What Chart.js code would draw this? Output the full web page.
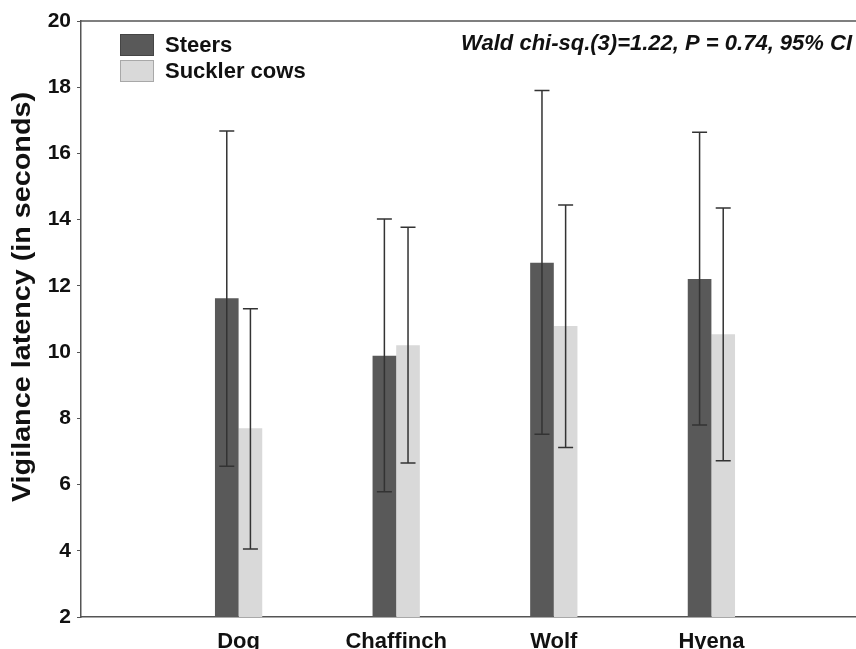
<!DOCTYPE html>
<html>
<head>
<meta charset="utf-8">
<script src="https://cdn.jsdelivr.net/npm/chart.js@4"></script>
<style>
  html, body { margin: 0; padding: 0; background: #fff; overflow: hidden; }
  #wrap { width: 856px; height: 649px; overflow: hidden; }
</style>
</head>
<body>
<div id="wrap"><canvas id="vigChart" width="869" height="649"></canvas></div>
<script>
const categories = ['Dog', 'Chaffinch', 'Wolf', 'Hyena'];
const seriesNames = ['Steers', 'Suckler cows'];
const steersMean = [11.63, 9.89, 12.70, 12.21];
const steersLow = [6.55, 5.78, 7.52, 7.80];
const steersHigh = [16.68, 14.02, 17.90, 16.64];
const cowsMean = [7.70, 10.21, 10.79, 10.54];
const cowsLow = [4.05, 6.65, 7.12, 6.72];
const cowsHigh = [11.31, 13.77, 14.44, 14.35];
const yTicks = [2, 4, 6, 8, 10, 12, 14, 16, 18, 20];
const statsNote = 'Wald chi-sq.(3)=1.22, P = 0.74, 95% CI';
const yTitle = 'Vigilance latency (in seconds)';

const barColors = ['#595959', '#d9d9d9'];
const edgeColors = ['#454545', '#a8a8a8'];
const FONT = '"Liberation Sans", Arial, sans-serif';

function toPoints(arr) {
    return arr.map((v, i) => ({ x: i + 1, y: v }));
}

// error bars, frame top line, legend, note and y title
const extras = {
    id: 'extras',
    afterDatasetsDraw(chart) {
        const ctx = chart.ctx;
        const y = chart.scales.y;
        const area = chart.chartArea;
        const ranges = [[steersLow, steersHigh], [cowsLow, cowsHigh]];
        ctx.save();
        ctx.strokeStyle = '#333';
        ctx.lineWidth = 1.5;
        ranges.forEach((r, d) => {
            chart.getDatasetMeta(d).data.forEach((bar, i) => {
                const top = y.getPixelForValue(r[1][i]);
                const bot = y.getPixelForValue(r[0][i]);
                ctx.beginPath();
                ctx.moveTo(bar.x, top);
                ctx.lineTo(bar.x, bot);
                ctx.moveTo(bar.x - 7.5, top);
                ctx.lineTo(bar.x + 7.5, top);
                ctx.moveTo(bar.x - 7.5, bot);
                ctx.lineTo(bar.x + 7.5, bot);
                ctx.stroke();
            });
        });

        // top of frame
        ctx.strokeStyle = '#555';
        ctx.lineWidth = 1.5;
        ctx.beginPath();
        ctx.moveTo(area.left, area.top);
        ctx.lineTo(area.right, area.top);
        ctx.stroke();

        // legend
        ctx.font = 'bold 22px ' + FONT;
        ctx.textBaseline = 'middle';
        seriesNames.forEach((name, i) => {
            const by = 34 + i * 26;
            ctx.fillStyle = barColors[i];
            ctx.fillRect(120, by, 34, 22);
            ctx.strokeStyle = edgeColors[i];
            ctx.lineWidth = 1;
            ctx.strokeRect(120.5, by + 0.5, 33, 21);
            ctx.fillStyle = '#111';
            ctx.fillText(name, 165, by + 12);
        });

        // stats note
        ctx.font = 'italic bold 22px ' + FONT;
        ctx.textAlign = 'right';
        ctx.fillText(statsNote, 852, 44);

        // y title
        ctx.font = 'bold 25px ' + FONT;
        ctx.textAlign = 'center';
        ctx.translate(23, 297);
        ctx.rotate(-Math.PI / 2);
        ctx.scale(1.15, 1);
        ctx.fillText(yTitle, 0, 0);
        ctx.restore();
    }
};

const ctx = document.getElementById('vigChart').getContext('2d');
new Chart(ctx, {
    type: 'bar',
    data: {
        datasets: [{
            label: seriesNames[0],
            data: toPoints(steersMean),
            backgroundColor: barColors[0],
            borderWidth: 0
        }, {
            label: seriesNames[1],
            data: toPoints(cowsMean),
            backgroundColor: barColors[1],
            borderWidth: 0
        }]
    },
    options: {
        responsive: false,
        animation: false,
        events: [],
        categoryPercentage: 0.3,
        barPercentage: 1.0,
        layout: { padding: { top: 21, right: 0, left: 0, bottom: 0 } },
        plugins: {
            legend: { display: false },
            tooltip: { enabled: false }
        },
        scales: {
            x: {
                type: 'linear',
                offset: false,
                min: 0,
                max: 5,
                grid: { display: false },
                border: { color: '#555', width: 1.5 },
                afterBuildTicks: (scale) => {
                    scale.ticks = categories.map((c, i) => ({ value: i + 1 }));
                },
                afterFit: (scale) => { scale.height = 32; },
                ticks: {
                    autoSkip: false,
                    maxRotation: 0,
                    padding: 4,
                    color: '#111',
                    font: { family: FONT, size: 22, weight: 'bold' },
                    callback: (v) => categories[v - 1]
                }
            },
            y: {
                min: 2,
                max: 20,
                afterBuildTicks: (scale) => {
                    scale.ticks = yTicks.map(v => ({ value: v }));
                },
                afterFit: (scale) => { scale.width = 81; },
                grid: { display: true, drawOnChartArea: false, tickLength: 4, color: '#555' },
                border: { color: '#555', width: 1.5 },
                ticks: {
                    padding: 6,
                    color: '#111',
                    font: { family: FONT, size: 21, weight: 'bold' }
                }
            }
        }
    },
    plugins: [extras]
});
</script>
</body>
</html>
